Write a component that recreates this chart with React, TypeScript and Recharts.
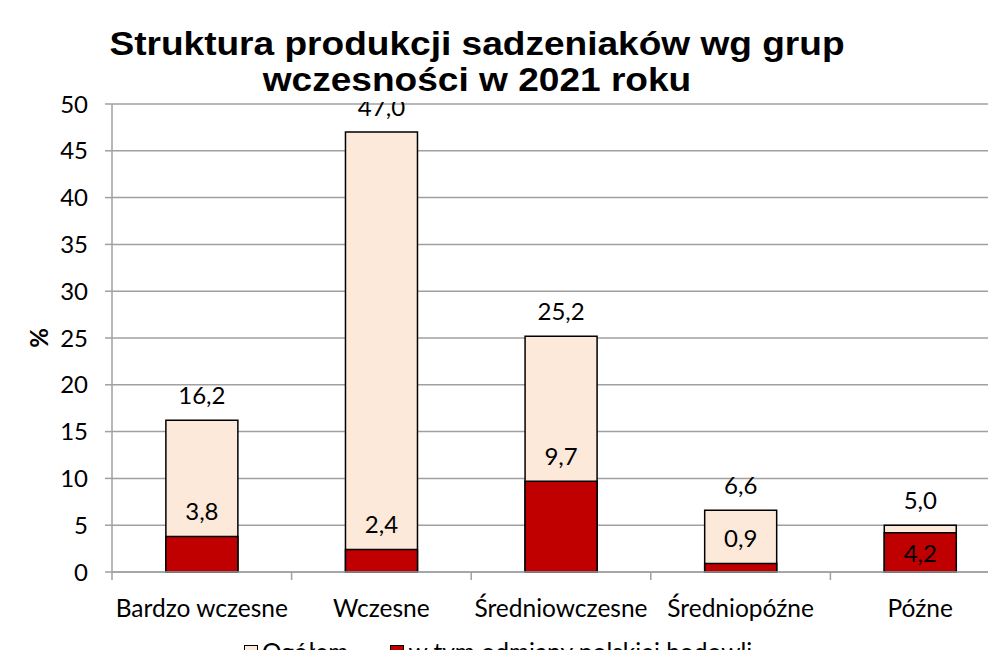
import React from 'react';
import { BarChart, Bar, XAxis, YAxis, CartesianGrid, LabelList } from 'recharts';

const categories = ['Bardzo wczesne', 'Wczesne', 'Średniowczesne', 'Średniopóźne', 'Późne'];
const totalValues = [16.2, 47.0, 25.2, 6.6, 5.0];
const polishValues = [3.8, 2.4, 9.7, 0.9, 4.2];
const yTicks = [0, 5, 10, 15, 20, 25, 30, 35, 40, 45, 50];
const seriesNames = ['Ogółem', 'w tym odmiany polskiej hodowli'];
const titleLines = ['Struktura produkcji sadzeniaków wg grup', 'wczesności w 2021 roku'];
const yAxisLabel = '%';

const data = categories.map((c, i) => ({ category: c, total: totalValues[i], polish: polishValues[i] }));

const CHART_W = 1020;
const CHART_H = 658;
const MARGIN = { top: 104, right: 10, bottom: 26, left: 0 };
const Y_W = 112;
const X_H = 60;
const BAND = (CHART_W - MARGIN.left - MARGIN.right - Y_W) / categories.length;

const FONT = 'Lato, "Open Sans", sans-serif';
const FS = 24;
const FS_X = 24.5;
const AXIS = '#a0a0a0';
const LIGHT = '#FDE9D9';
const RED = '#C00000';

const fmt = (v: number) => Number(v).toFixed(1).replace('.', ',');

const XTick = (props: any) => {
  const { x, y, payload } = props;
  const half = BAND / 2;
  return (
    <g>
      <line x1={x - half} y1={y - 8} x2={x - half} y2={y} stroke={AXIS} strokeWidth={1.5} />
      <text x={x} y={y + 27} textAnchor="middle" dominantBaseline="central" fontFamily={FONT} fontSize={FS_X} fill="#000">
        {payload.value}
      </text>
    </g>
  );
};

const TotalLabel = (props: any) => {
  const { x, y, width, value } = props;
  return (
    <text x={Number(x) + Number(width) / 2} y={Number(y) - 26} textAnchor="middle" dominantBaseline="central" fontFamily={FONT} fontSize={FS} fill="#000">
      {fmt(value)}
    </text>
  );
};

const PolishLabel = (props: any) => {
  const { x, y, width, value, index } = props;
  const total = totalValues[index] ?? 100;
  const inside = total - Number(value) < 2;
  return (
    <text x={Number(x) + Number(width) / 2} y={inside ? Number(y) + 20 : Number(y) - 26} textAnchor="middle" dominantBaseline="central" fontFamily={FONT} fontSize={FS} fill="#000">
      {fmt(value)}
    </text>
  );
};

const YLabel = (props: any) => {
  const vb = props.viewBox || { y: MARGIN.top, height: 468 };
  const cy = vb.y + vb.height / 2;
  return (
    <text x={38} y={cy} transform={`rotate(-90 38 ${cy})`} textAnchor="middle" dominantBaseline="central" fontFamily={FONT} fontSize={FS} fontWeight="bold" fill="#000">
      {yAxisLabel}
    </text>
  );
};

export default function App() {
  const legendColors = [LIGHT, RED];
  return (
    <div style={{ position: 'relative', margin: -8, width: 996, height: 658, overflow: 'hidden', background: '#fff' }}>
      <BarChart width={CHART_W} height={CHART_H} data={data} margin={MARGIN} barCategoryGap="30%">
        <CartesianGrid horizontal vertical={false} stroke={AXIS} strokeWidth={1.5} />
        <XAxis
          xAxisId="main"
          dataKey="category"
          height={X_H}
          axisLine={{ stroke: AXIS, strokeWidth: 1.5 }}
          tickLine={false}
          tickSize={8}
          tickMargin={0}
          tick={<XTick />}
          interval={0}
        />
        <XAxis xAxisId="over" dataKey="category" hide />
        <YAxis
          width={Y_W}
          domain={[0, 50]}
          ticks={yTicks}
          interval={0}
          axisLine={{ stroke: AXIS, strokeWidth: 1.5 }}
          tickLine={{ stroke: AXIS, strokeWidth: 1.5 }}
          tickSize={7}
          tickMargin={17}
          tick={{ fontFamily: FONT, fontSize: FS, fill: '#000' }}
          label={<YLabel />}
        />
        <Bar xAxisId="main" dataKey="total" name={seriesNames[0]} fill={LIGHT} stroke="#000" strokeWidth={1.5} isAnimationActive={false}>
          <LabelList dataKey="total" content={<TotalLabel />} />
        </Bar>
        <Bar xAxisId="over" dataKey="polish" name={seriesNames[1]} fill={RED} stroke="#000" strokeWidth={1.5} isAnimationActive={false}>
          <LabelList dataKey="polish" content={<PolishLabel />} />
        </Bar>
      </BarChart>
      <div
        style={{
          position: 'absolute',
          left: 105,
          top: 0,
          width: 744,
          height: 102,
          background: '#fff',
          textAlign: 'center',
          fontFamily: '"Liberation Sans", Arial, sans-serif',
          fontWeight: 'bold',
          fontSize: 34,
          lineHeight: '36px',
          paddingTop: 25,
          boxSizing: 'border-box',
          color: '#000',
          whiteSpace: 'nowrap',
        }}
      >
        {titleLines.map((t) => (
          <div key={t} style={{ transform: 'scaleX(1.09)' }}>{t}</div>
        ))}
      </div>
      <div
        style={{
          position: 'absolute',
          left: 244,
          top: 638,
          display: 'flex',
          alignItems: 'center',
          fontFamily: FONT,
          fontSize: FS_X,
          lineHeight: '28px',
          color: '#000',
          whiteSpace: 'nowrap',
        }}
      >
        {seriesNames.map((n, i) => (
          <div key={n} style={{ display: 'flex', alignItems: 'center', marginRight: i === 0 ? 42 : 0 }}>
            <span style={{ display: 'inline-block', width: 12, height: 12, background: legendColors[i], border: '1.5px solid #000', marginRight: 4 }} />
            <span>{n}</span>
          </div>
        ))}
      </div>
    </div>
  );
}
